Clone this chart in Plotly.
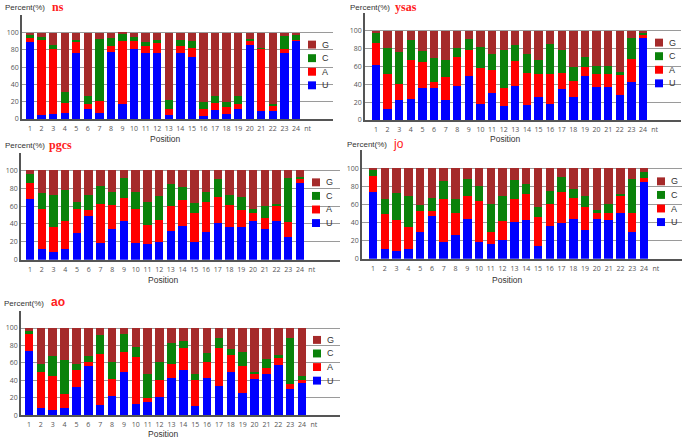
import plotly.graph_objects as go

positions = list(range(1, 25))
tick_vals = list(range(1, 26))
tick_labels = [str(i) for i in range(1, 25)] + ["nt"]
bases = ["U", "A", "C", "G"]
legend_order = ["G", "C", "A", "U"]
colors = {"U": "#0000FF", "A": "#FF0000", "C": "#0A820A", "G": "#A52A2A"}

ns_U = [89, 5, 6, 7, 77, 12, 7, 78, 17, 81, 77, 76, 5, 77, 72, 3, 10, 6, 12, 86, 9, 9, 76, 90]
ns_A = [5, 87, 75, 11, 12, 5, 14, 7, 73, 9, 7, 12, 6, 8, 10, 9, 8, 8, 5, 4, 72, 6, 5, 1]
ns_C = [3, 3, 5, 13, 3, 10, 72, 9, 8, 5, 5, 4, 11, 6, 8, 8, 8, 6, 9, 3, 1, 2, 15, 6]
ns_G = [3, 5, 14, 69, 8, 73, 7, 6, 2, 5, 11, 8, 78, 9, 10, 80, 74, 80, 74, 7, 18, 83, 4, 3]

ysas_U = [62, 12, 22, 23, 36, 36, 22, 38, 49, 18, 30, 16, 38, 17, 26, 18, 35, 26, 49, 37, 37, 28, 42, 92]
ysas_A = [24, 40, 18, 44, 29, 6, 26, 32, 29, 40, 26, 20, 28, 36, 26, 33, 18, 18, 10, 15, 14, 22, 26, 3]
ysas_C = [12, 29, 36, 23, 12, 27, 19, 11, 13, 24, 18, 42, 18, 21, 15, 34, 25, 15, 12, 8, 10, 4, 24, 3]
ysas_G = [2, 19, 24, 10, 23, 31, 33, 19, 9, 18, 26, 22, 16, 26, 33, 15, 22, 41, 29, 40, 39, 46, 8, 2]

pgcs_U = [68, 12, 9, 12, 30, 49, 19, 34, 43, 19, 18, 20, 32, 38, 20, 31, 41, 37, 37, 43, 34, 43, 25, 86]
pgcs_A = [18, 45, 28, 31, 27, 7, 43, 27, 26, 38, 21, 24, 28, 29, 32, 34, 29, 24, 19, 9, 13, 18, 17, 4]
pgcs_C = [10, 18, 35, 35, 8, 16, 20, 15, 22, 19, 26, 27, 25, 14, 11, 11, 20, 12, 14, 5, 13, 1, 50, 3]
pgcs_G = [4, 25, 28, 22, 35, 28, 18, 24, 9, 24, 35, 29, 15, 19, 37, 24, 10, 27, 30, 43, 40, 38, 8, 7]

jo_U = [74, 11, 8, 11, 30, 47, 18, 26, 44, 18, 16, 21, 41, 43, 14, 36, 40, 44, 32, 44, 43, 51, 30, 85]
jo_A = [18, 39, 35, 24, 23, 6, 48, 25, 26, 46, 13, 21, 25, 29, 32, 25, 34, 23, 25, 7, 8, 19, 21, 4]
jo_C = [6, 16, 30, 35, 7, 14, 20, 15, 18, 17, 32, 28, 21, 11, 11, 14, 16, 10, 13, 3, 10, 2, 37, 7]
jo_G = [2, 34, 27, 30, 40, 33, 14, 34, 12, 19, 39, 30, 13, 17, 43, 25, 10, 23, 30, 46, 39, 28, 12, 4]

ao_U = [74, 8, 6, 8, 32, 56, 12, 22, 49, 13, 15, 21, 43, 52, 11, 43, 34, 50, 26, 41, 47, 58, 30, 38]
ao_A = [19, 41, 39, 16, 20, 5, 58, 19, 24, 54, 5, 19, 16, 25, 29, 18, 43, 19, 31, 6, 7, 9, 6, 2]
ao_C = [5, 10, 23, 39, 7, 7, 22, 20, 20, 11, 27, 21, 24, 8, 7, 10, 12, 7, 16, 3, 10, 2, 52, 5]
ao_G = [2, 41, 32, 37, 41, 32, 8, 39, 7, 22, 53, 39, 17, 15, 53, 29, 11, 24, 27, 50, 36, 31, 12, 55]

W, H = 685, 443

panels = [
    dict(name="ns", data=dict(U=ns_U, A=ns_A, C=ns_C, G=ns_G),
         ax0=22, b1=30, b24=296, ax1=333, y0=120, y100=33,
         lgx=308, lgy=45, px=3, py=8, lx=50, lfont="Liberation Serif", lbold=True, pos=(165, 140)),
    dict(name="ysas", data=dict(U=ysas_U, A=ysas_A, C=ysas_C, G=ysas_G),
         ax0=365, b1=376, b24=643, ax1=681, y0=121, y100=31,
         lgx=655, lgy=43, px=348, py=8, lx=393, lfont="Liberation Serif", lbold=True, pos=(505, 140)),
    dict(name="pgcs", data=dict(U=pgcs_U, A=pgcs_A, C=pgcs_C, G=pgcs_G),
         ax0=21, b1=30, b24=300, ax1=340, y0=262, y100=172,
         lgx=312, lgy=184, px=3, py=147, lx=47, lfont="Liberation Serif", lbold=True, pos=(163, 283)),
    dict(name="jo", data=dict(U=jo_U, A=jo_A, C=jo_C, G=jo_G),
         ax0=362, b1=373, b24=644, ax1=682, y0=261, y100=170,
         lgx=657, lgy=183, px=345, py=146, lx=391, lfont="Liberation Sans", lbold=False, pos=(507, 283)),
    dict(name="ao", data=dict(U=ao_U, A=ao_A, C=ao_C, G=ao_G),
         ax0=21, b1=29, b24=302, ax1=340, y0=419, y100=331,
         lgx=313, lgy=343, px=2, py=306, lx=49, lfont="Liberation Sans", lbold=True, pos=(163, 438)),
]

fig = go.Figure()
annotations = []
shapes = []
layout_axes = {}

for i, p in enumerate(panels):
    k = "" if i == 0 else str(i + 1)
    xa, ya = "x" + k, "y" + k
    sp = (p["b24"] - p["b1"]) / 23.0
    xr = [1 - (p["b1"] - p["ax0"]) / sp, 1 + (p["ax1"] - p["b1"]) / sp]
    unit = (p["y0"] - p["y100"]) / 100.0
    ytop = p["y0"] - 120 * unit
    for b in bases:
        fig.add_trace(go.Bar(x=positions, y=p["data"][b], name=b, marker_color=colors[b],
                             marker_line_width=0, width=0.72, xaxis=xa, yaxis=ya,
                             showlegend=False))
    layout_axes["xaxis" + k] = dict(
        domain=[p["ax0"] / W, p["ax1"] / W], range=xr, anchor=ya,
        tickvals=tick_vals, ticktext=tick_labels, tickfont=dict(size=7, color="#555"),
        showgrid=False, showline=True, linecolor="#555", linewidth=1.5, ticks="",
        zeroline=False, ticklabelstandoff=2)
    layout_axes["yaxis" + k] = dict(
        domain=[(H - p["y0"]) / H, (H - ytop) / H], range=[0, 120], anchor=xa,
        tickvals=[0, 20, 40, 60, 80, 100], tickfont=dict(size=7, color="#555"),
        showgrid=True, gridcolor="#9a9a9a", gridwidth=1, showline=True, linecolor="#555",
        linewidth=1.5, ticks="", zeroline=False)
    annotations.append(dict(x=p["px"] / W, y=(H - p["py"]) / H, xref="paper", yref="paper",
                            text="Percent(%)", showarrow=False, xanchor="left", yanchor="middle",
                            font=dict(size=8, color="#333", family="Liberation Sans")))
    lab = "<b>%s</b>" % p["name"] if p["lbold"] else p["name"]
    annotations.append(dict(x=p["lx"] / W, y=(H - p["py"] + 1) / H, xref="paper", yref="paper",
                            text=lab, showarrow=False, xanchor="left", yanchor="middle",
                            font=dict(size=12, color="#FF2020", family=p["lfont"])))
    annotations.append(dict(x=p["pos"][0] / W, y=(H - p["pos"][1]) / H, xref="paper", yref="paper",
                            text="Position", showarrow=False, xanchor="center", yanchor="middle",
                            font=dict(size=8.5, color="#333", family="Liberation Sans")))
    for j, b in enumerate(legend_order):
        cy = p["lgy"] + j * 13.7
        shapes.append(dict(type="rect", xref="paper", yref="paper",
                           x0=p["lgx"] / W, x1=(p["lgx"] + 8) / W,
                           y0=(H - cy - 4) / H, y1=(H - cy + 4) / H,
                           fillcolor=colors[b], line=dict(width=0)))
        annotations.append(dict(x=(p["lgx"] + 12) / W, y=(H - cy) / H, xref="paper", yref="paper",
                                text=b, showarrow=False, xanchor="left", yanchor="middle",
                                font=dict(size=9, color="#333", family="Liberation Sans")))

fig.update_layout(
    width=W, height=H, margin=dict(l=0, r=0, t=0, b=0),
    barmode="stack", plot_bgcolor="white", paper_bgcolor="white",
    annotations=annotations, shapes=shapes, showlegend=False,
    **layout_axes)

fig.write_html("out.html", config={"displayModeBar": False},
               post_script="document.body.style.margin='0';document.body.style.overflow='hidden';")
